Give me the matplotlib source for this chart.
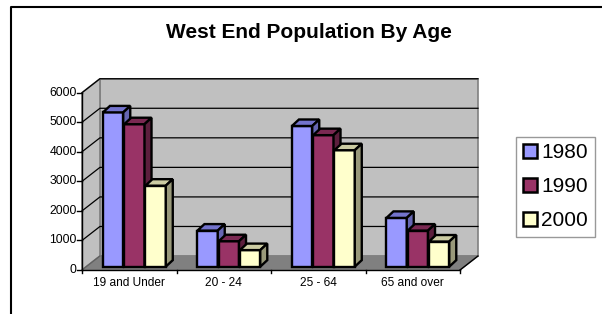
import matplotlib.pyplot as plt
from matplotlib.patches import Polygon
from matplotlib.lines import Line2D

plt.rcParams['font.family'] = ['Liberation Sans', 'DejaVu Sans']

categories = ['19 and Under', '20 - 24', '25 - 64', '65 and over']
years = ['1980', '1990', '2000']
values = {
    '1980': [5220, 1220, 4760, 1650],
    '1990': [4820, 860, 4450, 1220],
    '2000': [2740, 560, 3940, 850],
}
front_colors = ['#9999FF', '#993366', '#FFFFCC']
side_colors = ['#6666B3', '#5C1F3D', '#99997A']
top_colors = ['#7373CC', '#7A2952', '#CCCCA3']

YMAX = 6000
# depth of the chart box and of each column, in data units
DX, DY = 0.19, 473
BDX, BDY = 0.074, 220
F0 = 0.24          # where the columns sit inside the box depth
BAR_W, BAR_STEP, BAR_START = 0.215, 0.225, 0.176

fig = plt.figure(figsize=(6.02, 3.14), dpi=100)
ax = fig.add_axes([82 / 602, (314 - 270) / 314, (460 - 82) / 602, (270 - 92.7) / 314])
ax.set_xlim(0, len(categories))
ax.set_ylim(0, YMAX)
ax.axis('off')

n = len(categories)
# walls and floor
ax.add_patch(Polygon([(DX, DY), (n + DX, DY), (n + DX, YMAX + DY), (DX, YMAX + DY)],
                     closed=True, fc='#C0C0C0', ec='#808080', lw=1.2, clip_on=False, zorder=1))
ax.add_patch(Polygon([(0, 0), (DX, DY), (DX, YMAX + DY), (0, YMAX)],
                     closed=True, fc='#C0C0C0', ec='#808080', lw=1.2, clip_on=False, zorder=1))
ax.add_patch(Polygon([(0, 0), (n, 0), (n + DX, DY), (DX, DY)],
                     closed=True, fc='#808080', ec='#808080', lw=1, clip_on=False, zorder=1))
ax.plot([n, n + DX], [0, DY], color='black', lw=1, clip_on=False, zorder=2)

# gridlines
for v in range(1000, YMAX + 1, 1000):
    ax.plot([0, DX, n + DX], [v, v + DY, v + DY], color='black', lw=0.9,
            clip_on=False, zorder=2)
ax.plot([0, DX], [0, DY], color='#606060', lw=0.9, clip_on=False, zorder=2)

# columns
b0 = F0 * DY
for i in range(n):
    for j, yr in enumerate(years):
        v = values[yr][i]
        xl = i + BAR_START + j * BAR_STEP + F0 * DX
        ax.bar(xl, v, BAR_W, bottom=b0, align='edge', color=front_colors[j],
               edgecolor='black', lw=1.7, clip_on=False, zorder=3 + i * 3 + j)
        top = [(xl, b0 + v), (xl + BAR_W, b0 + v),
               (xl + BAR_W + BDX, b0 + v + BDY), (xl + BDX, b0 + v + BDY)]
        side = [(xl + BAR_W, b0), (xl + BAR_W + BDX, b0 + BDY),
                (xl + BAR_W + BDX, b0 + v + BDY), (xl + BAR_W, b0 + v)]
        ax.add_patch(Polygon(top, closed=True, fc=top_colors[j], ec='black', lw=1.7,
                             clip_on=False, zorder=3 + i * 3 + j))
        ax.add_patch(Polygon(side, closed=True, fc=side_colors[j], ec='black', lw=1.7,
                             clip_on=False, zorder=3 + i * 3 + j))

# axes lines, ticks and labels
ax.plot([0, 0], [0, YMAX], color='black', lw=1, clip_on=False, zorder=20)
ax.plot([0, n], [0, 0], color='black', lw=1, clip_on=False, zorder=20)
for v in range(0, YMAX + 1, 1000):
    ax.plot([-0.05, 0], [v, v], color='black', lw=1, clip_on=False, zorder=20)
    ax.text(-0.055, v, str(v), ha='right', va='center', fontsize=8.8)
for i in range(n + 1):
    ax.plot([i, i], [0, -110], color='black', lw=1, clip_on=False, zorder=20)
for i, c in enumerate(categories):
    ax.text(i + 0.5, -250, c, ha='center', va='top', fontsize=8.6)

fig.text(309 / 602, 1 - 37.5 / 314, 'West End Population By Age', ha='center', va='baseline',
         fontsize=15, fontweight='bold')

# legend
handles = [Line2D([], [], marker='s', ls='', markersize=9.5, markerfacecolor=c,
                  markeredgecolor='black', markeredgewidth=1.8) for c in front_colors]
leg = fig.legend(handles, years, loc='upper left', bbox_to_anchor=(515.5 / 602, 1 - 136.5 / 314),
                 frameon=True, fancybox=False, fontsize=15, handlelength=0.75,
                 handletextpad=0.15, borderpad=0.33, labelspacing=0.72, borderaxespad=0)
leg.get_frame().set_edgecolor('#808080')
leg.get_frame().set_linewidth(1)

# outer frame
fig.add_artist(Line2D([10.5 / 602, 10.5 / 602, 1], [0, 1 - 6.5 / 314, 1 - 6.5 / 314],
                      color='black', lw=1.5, transform=fig.transFigure))

fig.savefig('out.png', dpi=100)
